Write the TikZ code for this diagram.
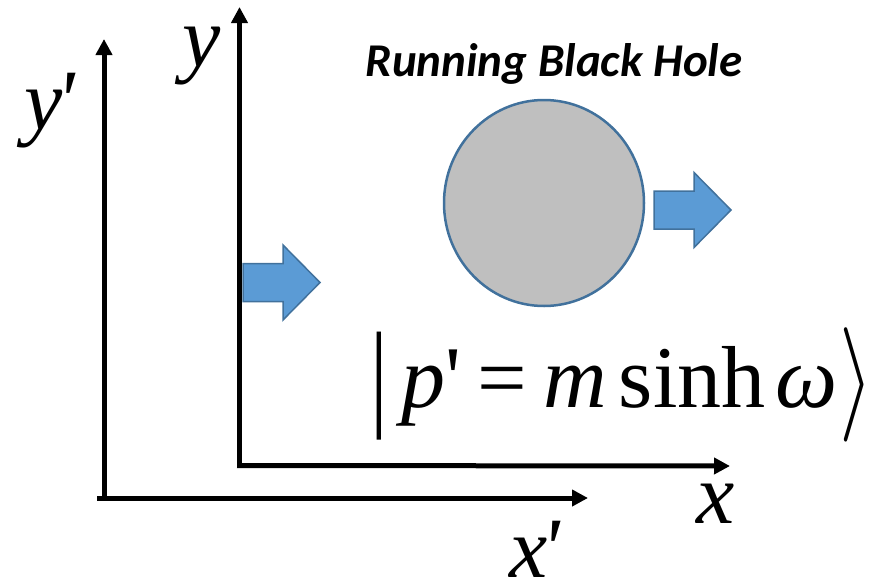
\RequirePackage{fix-cm}
\documentclass[tikz,border=0pt]{standalone}
\usepackage{amsmath}
\usepackage{fontspec}
\newfontfamily\romfont{Liberation Serif}
\newfontfamily\titlefont{Carlito}
\usepackage{tikz}
\usetikzlibrary{arrows.meta, shapes.geometric}

\definecolor{holegray}{HTML}{BFBFBF}
\definecolor{edgeblue}{HTML}{41719C}
\definecolor{arrowblue}{HTML}{5B9BD5}

\begin{document}
\begin{tikzpicture}[
  x=1pt, y=-1pt,
  axis/.style={line width=5pt, -{Triangle[length=16pt, width=16pt]}},
  axislabel/.style={font=\romfont\itshape\fontsize{86}{100}\selectfont, inner sep=0pt, anchor=base},
  hole/.style={ellipse, draw=edgeblue, line width=2.5pt, fill=holegray,
               minimum width=200pt, minimum height=206pt},
  movearrow/.pic={
    \draw[draw=edgeblue, line width=1.5pt, fill=arrowblue, line join=miter]
      (0,-19) -- (40,-19) -- (40,-37.5) -- (77,0) -- (40,37.5) -- (40,19) -- (0,19) -- cycle;
  }
]
\useasboundingbox (0,0) rectangle (884,579);

% primed frame
\coordinate (Op)      at (104,498);
\coordinate (xpstart) at (97,498);
\coordinate (xpend)   at (588,498);
\coordinate (ypend)   at (104,39);
\draw[axis] (Op) -- (ypend);
\draw[axis] (xpstart) -- (xpend);

% unprimed frame
\coordinate (O)      at (239.5,465.5);
\coordinate (xstart) at (237,465.5);
\coordinate (xend)   at (730,466);
\coordinate (yend)   at (239.5,7);
\draw[axis] (O) -- (yend);
\draw[axis] (xstart) -- (xend);

\node[axislabel] (yplabel) at (50,129)  {y\kern-6pt'};
\node[axislabel] (ylabel)  at (202,66)  {y};
\node[axislabel] (xlabel)  at (716,523) {x};
\node[axislabel] (xplabel) at (535,577) {x\kern-6pt'};

% black hole
\node[font=\titlefont\bfseries\itshape\fontsize{47}{56}\selectfont, anchor=base, inner sep=0pt]
  (title) at (554,76) {Running Black Hole};
\node[hole] (hole) at (544,203) {};

\pic (framearrow) at (243,282.5) {movearrow};
\pic (holearrow)  at (654,210) {movearrow};

\node[font=\romfont\fontsize{88}{100}\selectfont, anchor=base west, inner sep=0pt]
  (ket) at (370,407)
  {\raisebox{-7pt}{\scalebox{1}[1.35]{|}}\hspace{14pt}{\itshape p}'\hspace{16pt}=\hspace{16pt}{\itshape m}\hspace{12pt}sinh\hspace{10pt}{\itshape ω}\hspace{2pt}\raisebox{-6pt}{\scalebox{1}[1.3]{$\rangle$}}};

\end{tikzpicture}
\end{document}
